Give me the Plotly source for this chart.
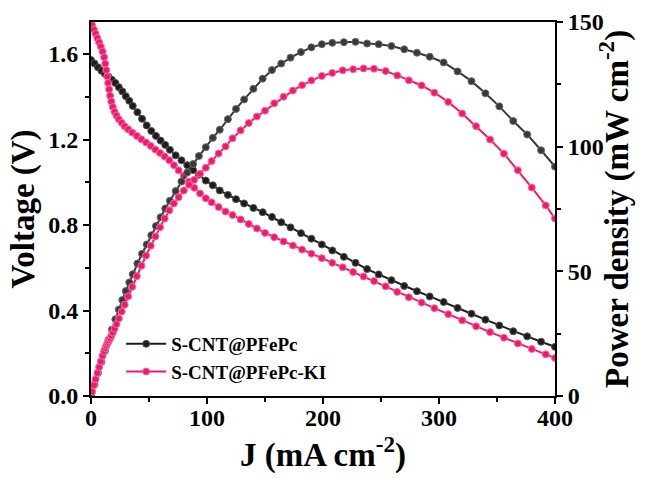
import plotly.graph_objects as go

# ---- data: S-CNT@PFePc (black) ----
j_black = [0, 3, 6, 9, 12, 15, 18, 21, 24, 27, 30, 33, 36, 40, 44, 48, 52, 56, 60, 64, 68,
           73, 78, 83, 88, 93, 99, 105, 111, 118, 125, 132, 140, 148, 156, 164, 172, 181, 190,
           199, 208, 218, 228, 238, 248, 259, 270, 281, 292, 304, 316, 328, 340, 352, 364,
           376, 388, 400]
v_black = [1.572, 1.556, 1.538, 1.522, 1.508, 1.494, 1.480, 1.465, 1.445, 1.425, 1.403, 1.381,
           1.357, 1.328, 1.297, 1.266, 1.240, 1.217, 1.195, 1.175, 1.152, 1.126, 1.103, 1.080,
           1.057, 1.035, 1.008, 0.986, 0.962, 0.941, 0.921, 0.901, 0.880, 0.860, 0.838, 0.813,
           0.789, 0.762, 0.736, 0.709, 0.681, 0.651, 0.623, 0.594, 0.569, 0.542, 0.515, 0.490,
           0.466, 0.440, 0.412, 0.385, 0.357, 0.330, 0.303, 0.279, 0.254, 0.230]
p_black = [0.0, 4.67, 9.23, 13.70, 18.10, 22.41, 26.64, 30.77, 34.68, 38.48, 42.09, 45.57,
           48.85, 53.12, 57.07, 60.77, 64.48, 68.15, 71.70, 75.20, 78.34, 82.20, 86.03, 89.64,
           93.02, 96.26, 99.79, 103.53, 106.78, 111.04, 115.13, 118.93, 123.20, 127.28, 130.73,
           133.33, 135.71, 137.92, 139.84, 141.09, 141.65, 141.92, 142.04, 141.37, 141.11,
           140.38, 139.05, 137.69, 136.07, 133.76, 130.19, 126.28, 121.38, 116.16, 110.29,
           104.90, 98.55, 92.00]

# ---- data: S-CNT@PFePc-KI (pink) ----
j_pink = [1, 2.5, 4, 5.5, 7, 8.5, 10, 11.3, 12.3, 13.2, 14, 14.8, 15.6, 16.5, 17.5, 18.8, 20.3,
          22, 24, 26.5, 29, 32, 35.5, 39.5, 43.5, 47.5, 51.5, 55.5, 59.5, 63.5, 67.5, 71.5,
          75.5, 80, 84.5, 89, 94, 99, 104, 110, 116, 122, 129, 136, 143, 150, 158, 166, 174,
          182, 190, 199, 208, 217, 226, 235, 244, 254, 264, 274, 285, 296, 308, 320, 332, 344,
          356, 368, 380, 392, 400]
v_pink = [1.735, 1.715, 1.695, 1.675, 1.655, 1.635, 1.612, 1.585, 1.555, 1.525, 1.495, 1.465,
          1.435, 1.405, 1.378, 1.352, 1.330, 1.312, 1.295, 1.278, 1.262, 1.248, 1.233, 1.217,
          1.201, 1.186, 1.170, 1.153, 1.137, 1.121, 1.103, 1.080, 1.056, 1.030, 1.003, 0.974,
          0.948, 0.925, 0.906, 0.884, 0.863, 0.847, 0.826, 0.805, 0.784, 0.763, 0.743, 0.723,
          0.704, 0.685, 0.666, 0.645, 0.623, 0.602, 0.580, 0.559, 0.538, 0.513, 0.487, 0.462,
          0.437, 0.411, 0.383, 0.354, 0.326, 0.299, 0.273, 0.246, 0.220, 0.195, 0.178]
p_pink = [1.74, 4.29, 6.78, 9.21, 11.59, 13.90, 16.12, 17.91, 19.13, 20.13, 20.93, 21.68, 22.39,
          23.18, 24.12, 25.42, 27.00, 28.86, 31.08, 33.87, 36.60, 39.94, 43.77, 48.07, 52.24,
          56.34, 60.26, 64.00, 67.65, 71.18, 74.45, 77.22, 79.73, 82.40, 84.75, 86.69, 89.11,
          91.58, 94.22, 97.24, 100.11, 103.33, 106.55, 109.48, 112.11, 114.45, 117.39, 120.02,
          122.50, 124.67, 126.54, 128.36, 129.58, 130.63, 131.08, 131.37, 131.27, 130.30,
          128.57, 126.59, 124.55, 121.66, 117.96, 113.28, 108.23, 102.86, 97.19, 90.53, 83.60,
          76.44, 71.20]

names = ["S-CNT@PFePc", "S-CNT@PFePc-KI"]
x_ticks = [0, 100, 200, 300, 400]
y_ticks = [0.0, 0.4, 0.8, 1.2, 1.6]
y2_ticks = [0, 50, 100, 150]

BLACK = "#1c1c1c"
BLACK_P = "#383838"
PINK = "#EE1A6E"
FONT = "Liberation Serif"

fig = go.Figure()

fig.add_trace(go.Scatter(x=j_black, y=p_black, yaxis="y2", mode="lines+markers",
                         line=dict(color=BLACK_P, width=2),
                         marker=dict(size=7, color=BLACK_P, line=dict(color="#6a6a6a", width=1)),
                         showlegend=False))
fig.add_trace(go.Scatter(x=j_pink, y=p_pink, yaxis="y2", mode="lines+markers",
                         line=dict(color=PINK, width=2),
                         marker=dict(size=7, color=PINK, line=dict(color="#f46fa2", width=1)),
                         showlegend=False))
fig.add_trace(go.Scatter(x=j_black, y=v_black, mode="lines+markers", name=names[0],
                         line=dict(color=BLACK, width=2),
                         marker=dict(size=7, color=BLACK, line=dict(color="#555555", width=1))))
fig.add_trace(go.Scatter(x=j_pink, y=v_pink, mode="lines+markers", name=names[1],
                         line=dict(color=PINK, width=2),
                         marker=dict(size=7, color=PINK, line=dict(color="#f46fa2", width=1))))

tickfont = dict(family=FONT, size=24, color="black", weight="bold")
titlefont = dict(family=FONT, size=33, color="black", weight="bold")

fig.update_layout(
    width=653, height=479,
    margin=dict(l=91, r=98, t=22, b=83),
    paper_bgcolor="white", plot_bgcolor="white",
    xaxis=dict(range=[0, 400], tickvals=x_ticks, ticktext=[str(v) for v in x_ticks],
               ticks="outside", ticklen=6, tickwidth=2, tickcolor="black",
               minor=dict(dtick=50, ticks="outside", ticklen=4, tickwidth=2, tickcolor="black"),
               showline=True, linewidth=2, linecolor="black", mirror=True,
               showgrid=False, zeroline=False, tickfont=tickfont, automargin=False,
               ticklabelstandoff=-7,
               title=dict(text="J (mA cm<sup>-2</sup>)", font=titlefont, standoff=0)),
    yaxis=dict(range=[0, 1.75], tickvals=y_ticks, ticktext=[f"{v:.1f}" for v in y_ticks],
               ticks="outside", ticklen=6, tickwidth=2, tickcolor="black",
               minor=dict(dtick=0.2, ticks="outside", ticklen=4, tickwidth=2, tickcolor="black"),
               showline=True, linewidth=2, linecolor="black",
               showgrid=False, zeroline=False, tickfont=tickfont, automargin=False,
               title=dict(text="Voltage (V)", font=titlefont, standoff=4)),
    yaxis2=dict(range=[0, 150], tickvals=y2_ticks, ticktext=[str(v) for v in y2_ticks],
                overlaying="y", side="right",
                ticks="outside", ticklen=6, tickwidth=2, tickcolor="black",
                minor=dict(dtick=25, ticks="outside", ticklen=4, tickwidth=2, tickcolor="black"),
                showline=True, linewidth=2, linecolor="black",
                showgrid=False, zeroline=False, tickfont=tickfont, automargin=False),
    legend=dict(x=0.065, y=0.19, xanchor="left", yanchor="top",
                bgcolor="rgba(0,0,0,0)", font=dict(family=FONT, size=19, color="black", weight="bold"),
                tracegroupgap=0, itemwidth=40),
)

fig.add_annotation(text="Power density (mW cm<sup>-2</sup>)", xref="paper", yref="paper",
                   x=1.127, y=0.5, xanchor="center", yanchor="middle", textangle=-90,
                   showarrow=False, font=titlefont)

fig.write_html("out.html")
